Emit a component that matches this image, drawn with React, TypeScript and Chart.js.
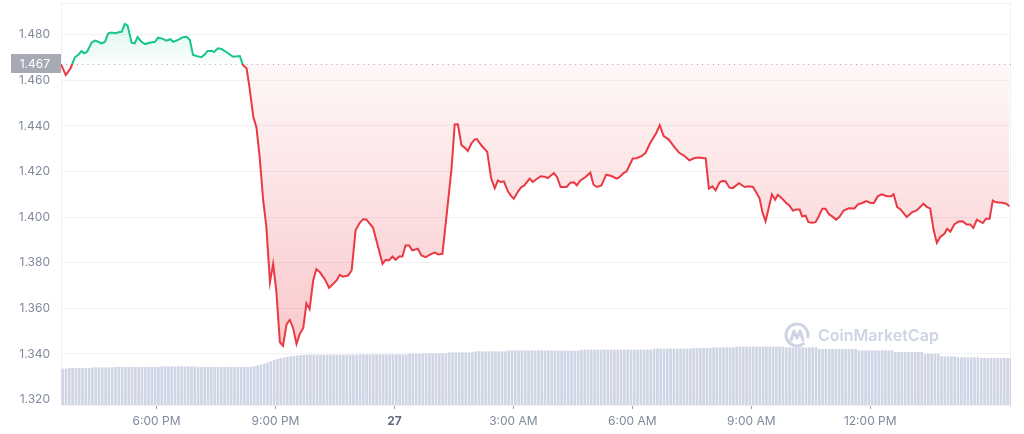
import React, { useEffect, useRef } from 'react';
import { Chart, registerables } from 'chart.js';

Chart.register(...registerables);

// ---- Data ----
const START_HOUR = 15.59; // left edge of the 24h window (hours from midnight of the 26th)
const END_HOUR = 39.55;
const BASELINE = 1.467; // opening price
const Y_MIN = 1.3176;
const Y_MAX = 1.4939;

const Y_TICKS = [1.32, 1.34, 1.36, 1.38, 1.4, 1.42, 1.44, 1.46, 1.48];
const X_TICKS = [18, 21, 24, 27, 30, 33, 36];
const X_LABELS = ['6:00 PM', '9:00 PM', '27', '3:00 AM', '6:00 AM', '9:00 AM', '12:00 PM'];

const PRICE_TIMES = [
  15.59, 15.71, 15.83, 15.94, 16.02, 16.11, 16.18, 16.25, 16.36, 16.44, 16.53, 16.61,
  16.7, 16.78, 16.87, 16.95, 17.07, 17.12, 17.2, 17.27, 17.37, 17.45, 17.52, 17.62,
  17.71, 17.83, 17.96, 18.04, 18.13, 18.25, 18.35, 18.42, 18.54, 18.67, 18.76, 18.84,
  18.92, 19.02, 19.13, 19.22, 19.28, 19.39, 19.45, 19.55, 19.64, 19.76, 19.93, 20.1,
  20.18, 20.27, 20.33, 20.44, 20.52, 20.6, 20.69, 20.77, 20.86, 20.94, 21.02, 21.11,
  21.19, 21.28, 21.36, 21.44, 21.53, 21.61, 21.7, 21.78, 21.86, 21.95, 22.03, 22.12,
  22.24, 22.35, 22.45, 22.54, 22.62, 22.7, 22.83, 22.92, 23.02, 23.12, 23.21, 23.29,
  23.46, 23.59, 23.7, 23.78, 23.86, 23.95, 24.03, 24.12, 24.2, 24.28, 24.37, 24.45,
  24.59, 24.68, 24.79, 24.87, 25.02, 25.1, 25.21, 25.31, 25.44, 25.52, 25.6, 25.69,
  25.77, 25.85, 25.94, 26.02, 26.08, 26.19, 26.34, 26.44, 26.53, 26.61, 26.68, 26.76,
  26.86, 26.95, 27.01, 27.12, 27.2, 27.27, 27.41, 27.49, 27.58, 27.69, 27.81, 27.87,
  28.02, 28.1, 28.19, 28.34, 28.44, 28.53, 28.6, 28.69, 28.82, 28.94, 29.02, 29.11,
  29.22, 29.34, 29.47, 29.61, 29.68, 29.78, 29.86, 30.01, 30.11, 30.23, 30.33, 30.45,
  30.59, 30.69, 30.79, 30.92, 31.07, 31.19, 31.29, 31.44, 31.57, 31.68, 31.85, 31.93,
  32.02, 32.1, 32.2, 32.28, 32.35, 32.45, 32.53, 32.69, 32.83, 32.94, 33.04, 33.12,
  33.21, 33.28, 33.36, 33.44, 33.52, 33.6, 33.67, 33.78, 33.88, 33.96, 34.05, 34.13,
  34.22, 34.28, 34.37, 34.44, 34.54, 34.62, 34.7, 34.79, 34.87, 34.96, 35.04, 35.14,
  35.22, 35.33, 35.46, 35.6, 35.69, 35.8, 35.9, 36.01, 36.09, 36.19, 36.29, 36.42,
  36.53, 36.59, 36.68, 36.76, 36.92, 37.06, 37.17, 37.26, 37.34, 37.43, 37.51, 37.6,
  37.68, 37.76, 37.87, 37.94, 38.02, 38.12, 38.23, 38.33, 38.43, 38.52, 38.6, 38.69,
  38.84, 38.92, 39.01, 39.09, 39.17, 39.33, 39.43, 39.51,
];

const PRICES = [
  1.467, 1.4623, 1.4652, 1.4701, 1.4711, 1.4728, 1.4718, 1.4725, 1.4765, 1.4774, 1.4769, 1.4762,
  1.4769, 1.4806, 1.4809, 1.4806, 1.4812, 1.4813, 1.4847, 1.484, 1.4765, 1.4762, 1.4789, 1.4769,
  1.4759, 1.4765, 1.4769, 1.4787, 1.4784, 1.4774, 1.478, 1.4769, 1.4777, 1.4789, 1.4791, 1.4777,
  1.4711, 1.4706, 1.4701, 1.4714, 1.4728, 1.473, 1.4724, 1.474, 1.4737, 1.4724, 1.4703, 1.4706,
  1.4667, 1.4653, 1.4586, 1.444, 1.4393, 1.4264, 1.4073, 1.3956, 1.3714, 1.3795, 1.3678, 1.3451,
  1.3436, 1.3531, 1.3549, 1.3516, 1.3444, 1.3487, 1.3514, 1.3622, 1.3597, 1.3722, 1.3771, 1.3758,
  1.3729, 1.369, 1.3707, 1.3722, 1.3747, 1.3739, 1.3744, 1.3766, 1.3942, 1.3974, 1.3991, 1.399,
  1.3953, 1.3868, 1.3795, 1.3813, 1.381, 1.3827, 1.3813, 1.3827, 1.3827, 1.3876, 1.3876, 1.3854,
  1.3861, 1.3832, 1.3824, 1.3833, 1.3845, 1.3836, 1.3839, 1.4, 1.4213, 1.4406, 1.4407, 1.4315,
  1.4305, 1.429, 1.4323, 1.434, 1.4342, 1.4315, 1.4286, 1.4169, 1.4127, 1.4161, 1.4154, 1.4157,
  1.4113, 1.4091, 1.4081, 1.4113, 1.4132, 1.4138, 1.4169, 1.4154, 1.4166, 1.4179, 1.4176, 1.4171,
  1.4193, 1.4176, 1.4132, 1.4132, 1.4151, 1.4153, 1.4139, 1.4161, 1.4176, 1.4195, 1.4142, 1.4132,
  1.4139, 1.4186, 1.418, 1.4169, 1.4176, 1.4193, 1.4202, 1.4257, 1.4258, 1.4267, 1.4281, 1.4325,
  1.4364, 1.4403, 1.4355, 1.434, 1.4305, 1.4281, 1.4271, 1.4249, 1.4259, 1.4261, 1.4257, 1.4125,
  1.4135, 1.4117, 1.4153, 1.4158, 1.4157, 1.4129, 1.4127, 1.4149, 1.4132, 1.4135, 1.4132, 1.411,
  1.4081, 1.4022, 1.3981, 1.4041, 1.41, 1.4076, 1.4098, 1.4081, 1.4062, 1.4051, 1.4029, 1.4033,
  1.4033, 1.4003, 1.4006, 1.3978, 1.3975, 1.3978, 1.4003, 1.4037, 1.4037, 1.4012, 1.4003, 1.3989,
  1.4, 1.4029, 1.4039, 1.4038, 1.4056, 1.4062, 1.407, 1.4062, 1.4062, 1.4091, 1.41, 1.4092,
  1.4092, 1.41, 1.4044, 1.4035, 1.4, 1.4022, 1.4029, 1.4044, 1.4059, 1.4044, 1.4038, 1.3942,
  1.3887, 1.3912, 1.3927, 1.3949, 1.3936, 1.3968, 1.3981, 1.3982, 1.3968, 1.3968, 1.3953, 1.3989,
  1.3974, 1.3993, 1.3993, 1.4073, 1.4065, 1.4063, 1.4059, 1.4048,
];

// 5-minute volume bars (relative units)
const VOLUME_STEP_HOURS = 1 / 12;
const VOLUMES = [
  36, 36, 36.7, 36.7, 36.7, 36.7, 36.7, 36.7, 36.7, 37.3, 37.3, 37.3,
  37.3, 37.3, 37.3, 37.3, 37.7, 37.7, 37.7, 37.7, 37.7, 37.7, 37.7, 37.7,
  37.7, 37.7, 37.7, 37.7, 37.7, 37.7, 38.3, 38.3, 38.3, 38.3, 38.3, 38.3,
  38.3, 38.3, 38.3, 38.3, 38.3, 37.7, 37.7, 37.7, 37.7, 37.7, 37.7, 37.7,
  37.7, 37.7, 37.7, 37.7, 37.7, 37.7, 37.7, 37.7, 37.7, 37.7, 38.5, 39.3,
  40, 41, 42.2, 43.3, 44.5, 45.7, 46.5, 47.2, 47.8, 48.3, 48.8, 49.2,
  49.5, 49.8, 50, 50, 50, 50, 50, 50, 50, 50, 50, 50,
  50, 50, 50, 50, 50, 50, 50.3, 50.3, 50.3, 50.3, 50.3, 50.3,
  50.3, 50.3, 50.3, 50.3, 50.3, 50.3, 50.3, 50.3, 50.3, 51, 51, 51,
  51, 51, 51.3, 51.3, 51.3, 51.3, 51.3, 51.3, 51.3, 52.3, 52.3, 52.3,
  52.3, 52.3, 52.3, 52.3, 52.3, 53.3, 53.3, 53.3, 53.3, 53.3, 53.3, 53.3,
  53.3, 53.3, 53.3, 54.3, 54.3, 54.3, 54.3, 54.3, 54.3, 54.3, 54.3, 54.3,
  54.3, 54.3, 54.3, 54.3, 54.3, 54, 54, 54, 54, 54, 54, 54,
  54, 55, 55, 55, 55, 55, 55, 55, 55, 55, 55, 55,
  55, 55, 55, 55, 55, 55, 55, 55, 55, 55, 55, 56,
  56, 56, 56, 56, 56, 56, 56, 56, 56, 56, 56, 56.7,
  56.7, 56.7, 56.7, 56.7, 56.7, 57.3, 57.3, 57.3, 57.3, 57.3, 57.3, 57.3,
  58, 58, 58, 58, 58, 58, 58, 58, 58, 58, 58, 58,
  58, 58, 58, 57.3, 57.3, 57.3, 57.3, 57.3, 57.3, 57.3, 57.3, 57.3,
  57.3, 55.7, 55.7, 55.7, 55.7, 55.7, 55.7, 55.7, 55.7, 55.7, 55.7, 55.7,
  55.7, 54.3, 54.3, 54.3, 54.3, 54.3, 54.3, 54.3, 54.3, 54.3, 54.3, 54.3,
  52.7, 52.7, 52.7, 52.7, 52.7, 52.7, 52.7, 52.7, 52.7, 50.7, 50.7, 50.7,
  50.7, 50.7, 48.3, 48.3, 48.3, 48.3, 48.3, 47.3, 47.3, 47.3, 47.3, 47.3,
  47.3, 47.3, 46.7, 46.7, 46.7, 46.7, 46.7, 46.7, 46.7, 46.7, 46.7, 46.7,
];
const VOLUME_AXIS_MAX = 402;

// ---- Styles ----
const GREEN = '#16C784';
const RED = '#EA3943';
const TICK_COLOR = '#808A9D';
const GRID_COLOR = '#EFF1F4';
const FONT = 'Inter, "Noto Sans", "DejaVu Sans", sans-serif';

function zeroPadding(scale: any) {
  scale.paddingTop = 0;
  scale.paddingBottom = 0;
  scale.paddingLeft = 0;
  scale.paddingRight = 0;
}

export default function App() {
  const ref = useRef<HTMLCanvasElement | null>(null);

  useEffect(() => {
    const canvas = ref.current;
    if (!canvas) return;

    const priceData = PRICE_TIMES.map((t, i) => ({ x: t, y: PRICES[i] }));
    const volumeData = VOLUMES.map((v, i) => ({ x: START_HOUR + (i + 0.5) * VOLUME_STEP_HOURS, y: v }));

    const decorPlugin = {
      id: 'decor',
      beforeDatasetsDraw(chart: any) {
        const { ctx, chartArea: a, scales } = chart;
        ctx.save();
        // frame
        ctx.strokeStyle = '#EEF0F3';
        ctx.lineWidth = 1;
        ctx.strokeRect(a.left + 0.5, a.top + 0.5, a.right - a.left - 1, a.bottom - a.top);
        // watermark
        const wx = a.right - 214;
        const wy = a.bottom - 70;
        ctx.strokeStyle = '#CDD4E3';
        ctx.lineWidth = 3;
        ctx.lineCap = 'round';
        ctx.lineJoin = 'round';
        ctx.beginPath();
        ctx.arc(wx, wy, 11, Math.PI * 0.3, Math.PI * 2.05, false);
        ctx.stroke();
        ctx.beginPath();
        ctx.moveTo(wx - 6, wy + 5);
        ctx.lineTo(wx - 3, wy - 4);
        ctx.lineTo(wx, wy + 3);
        ctx.lineTo(wx + 3, wy - 4);
        ctx.lineTo(wx + 6, wy + 5);
        ctx.stroke();
        ctx.fillStyle = '#CDD4E3';
        ctx.font = '600 16px ' + FONT;
        ctx.textAlign = 'left';
        ctx.textBaseline = 'middle';
        ctx.fillText('CoinMarketCap', wx + 21, wy + 1);
        // dotted baseline
        const yb = Math.round(scales.y.getPixelForValue(BASELINE)) + 0.5;
        ctx.strokeStyle = '#A3A9B6';
        ctx.lineWidth = 1;
        ctx.lineCap = 'butt';
        ctx.setLineDash([1, 4.3]);
        ctx.beginPath();
        ctx.moveTo(a.left, yb);
        ctx.lineTo(a.right, yb);
        ctx.stroke();
        ctx.restore();
      },
      afterDraw(chart: any) {
        const { ctx, chartArea: a, scales } = chart;
        const yb = scales.y.getPixelForValue(BASELINE);
        ctx.save();
        ctx.fillStyle = '#A5AAB5';
        ctx.fillRect(a.left - 50, Math.round(yb) - 10, 50, 19);
        ctx.fillStyle = '#FFFFFF';
        ctx.font = '12px ' + FONT;
        ctx.textAlign = 'right';
        ctx.textBaseline = 'middle';
        ctx.fillText(BASELINE.toFixed(3), a.left - 11, yb);
        ctx.restore();
      },
    };

    const chart = new Chart(canvas, {
      type: 'line',
      data: {
        datasets: [
          {
            type: 'line',
            data: priceData,
            borderColor: RED,
            borderWidth: 2,
            pointRadius: 0,
            tension: 0,
            fill: false,
            yAxisID: 'y',
            order: 0,
          } as any,
          {
            type: 'bar',
            data: volumeData,
            backgroundColor: '#CFD5E5',
            barThickness: 2,
            yAxisID: 'y1',
            order: 1,
          } as any,
        ],
      },
      options: {
        responsive: false,
        animation: false,
        devicePixelRatio: 1,
        layout: { padding: { top: 3, right: 13, left: 0, bottom: 0 } },
        plugins: {
          legend: { display: false },
          tooltip: { enabled: false },
        },
        scales: {
          x: {
            type: 'linear',
            min: START_HOUR,
            max: END_HOUR,
            offset: false,
            afterBuildTicks: (scale: any) => {
              scale.ticks = X_TICKS.map((v) => ({ value: v }));
            },
            afterFit: (scale: any) => {
              scale.height = 29;
              zeroPadding(scale);
            },
            ticks: {
              autoSkip: false,
              maxRotation: 0,
              padding: 5,
              color: (c: any) => (c.index === 2 ? '#616E85' : TICK_COLOR),
              font: (c: any) => ({ family: FONT, size: 12, weight: c.index === 2 ? 'bold' : 'normal' }),
              callback: (_v: any, i: number) => X_LABELS[i],
            },
            grid: {
              display: true,
              offset: false,
              drawOnChartArea: false,
              drawTicks: true,
              tickLength: 4,
              color: '#9AA1B0',
            },
            border: { display: false },
          },
          y: {
            type: 'linear',
            position: 'left',
            min: Y_MIN,
            max: Y_MAX,
            afterBuildTicks: (scale: any) => {
              scale.ticks = Y_TICKS.map((v) => ({ value: v }));
            },
            afterFit: (scale: any) => {
              scale.width = 61;
              zeroPadding(scale);
            },
            ticks: {
              padding: 11,
              color: TICK_COLOR,
              font: { family: FONT, size: 12 },
              callback: (v: any) => Number(v).toFixed(3),
            },
            grid: { color: GRID_COLOR, drawTicks: false, tickLength: 0 },
            border: { display: false },
          },
          y1: {
            type: 'linear',
            display: false,
            min: 0,
            max: VOLUME_AXIS_MAX,
          },
        },
      } as any,
      plugins: [decorPlugin],
    });

    // gradients depend on the laid-out chart area
    const a = chart.chartArea;
    const yb = chart.scales.y.getPixelForValue(BASELINE);
    const cx = chart.ctx;
    const stop = Math.min(1, Math.max(0, (yb - a.top) / (a.bottom - a.top)));
    const lineGrad = cx.createLinearGradient(0, a.top, 0, a.bottom);
    lineGrad.addColorStop(0, GREEN);
    lineGrad.addColorStop(stop, GREEN);
    lineGrad.addColorStop(stop, RED);
    lineGrad.addColorStop(1, RED);
    const greenGrad = cx.createLinearGradient(0, a.top, 0, yb);
    greenGrad.addColorStop(0, 'rgba(22,199,132,0.22)');
    greenGrad.addColorStop(1, 'rgba(22,199,132,0.02)');
    const redGrad = cx.createLinearGradient(0, yb, 0, a.bottom);
    redGrad.addColorStop(0, 'rgba(234,57,67,0.04)');
    redGrad.addColorStop(1, 'rgba(234,57,67,0.32)');
    const ds: any = chart.data.datasets[0];
    ds.borderColor = lineGrad;
    ds.fill = { target: { value: BASELINE }, above: greenGrad, below: redGrad };
    chart.update();

    return () => chart.destroy();
  }, []);

  return (
    <div style={{ position: 'fixed', left: 0, top: 0, width: 1024, height: 434, background: '#fff' }}>
      <canvas ref={ref} width={1024} height={434} style={{ display: 'block', width: 1024, height: 434 }} />
    </div>
  );
}
